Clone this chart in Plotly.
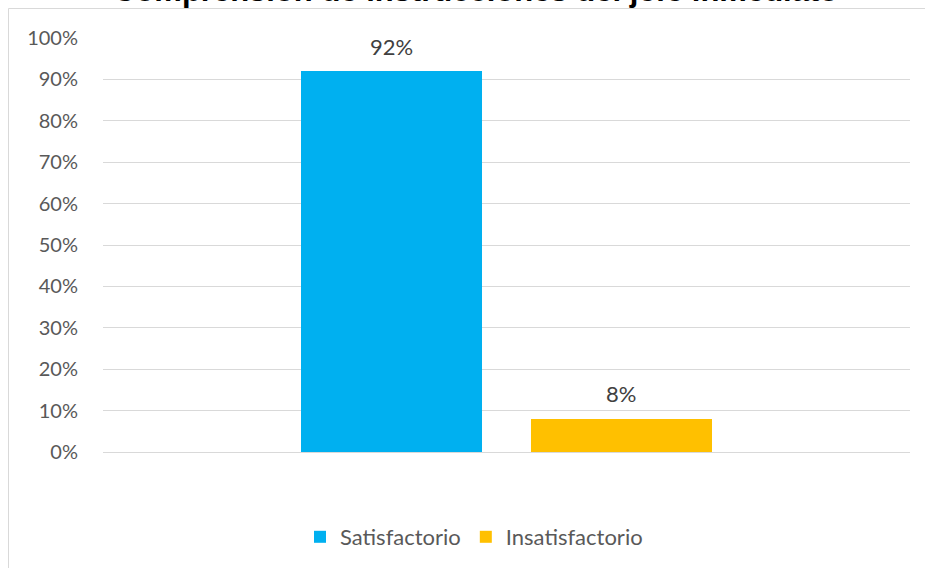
import plotly.graph_objects as go

title_text = "Comprensión de instrucciones del jefe inmediato"
category = ["Comprensión"]
series_names = ["Satisfactorio", "Insatisfactorio"]
series_values = [0.92, 0.08]
series_colors = ["#00B0F0", "#FFC000"]
tick_vals = [0, 0.1, 0.2, 0.3, 0.4, 0.5, 0.6, 0.7, 0.8, 0.9, 1.0]
tick_text = ["0%", "10%", "20%", "30%", "40%", "50%", "60%", "70%", "80%", "90%", "100%"]

W, H = 925, 568
ML, MR, MT, MB = 103, 15, 38, 116
PW = W - ML - MR
PH = H - MT - MB
BARGAP = 0.43
BARGROUPGAP = 0.213

fig = go.Figure()
for name, val, col in zip(series_names, series_values, series_colors):
    fig.add_trace(go.Bar(x=category, y=[val], name=name, marker_color=col,
                         marker_line_width=0))

slot = PW * (1 - BARGAP) / len(series_names)
annotations = []
for i, (name, val) in enumerate(zip(series_names, series_values)):
    offset = (i - (len(series_names) - 1) / 2) * slot
    annotations.append(dict(x=category[0], y=val, xref="x", yref="y",
                            text=f"{round(val*100)}%", showarrow=False,
                            xshift=offset, yshift=25, yanchor="middle",
                            font=dict(family="Lato", size=22, color="#404040")))

annotations.append(dict(x=(475 - ML) / PW, y=1, xref="paper", yref="paper",
                        text=f"<b>{title_text}</b>", showarrow=False,
                        yanchor="bottom", yshift=28, xanchor="center",
                        font=dict(family="Liberation Sans", size=31, color="#000000")))

fig.update_layout(
    width=W, height=H,
    margin=dict(l=ML, r=MR, t=MT, b=MB, pad=0, autoexpand=False),
    paper_bgcolor="white", plot_bgcolor="white",
    barmode="group", bargap=BARGAP, bargroupgap=BARGROUPGAP,
    showlegend=True,
    legend=dict(orientation="h", x=(474 - ML) / PW, xanchor="center",
                y=-(537 - MT - PH) / PH, yanchor="middle",
                font=dict(family="Lato", size=22, color="#595959"),
                traceorder="normal", itemwidth=30),
    annotations=annotations,
    shapes=[dict(type="rect", xref="paper", yref="paper",
                 x0=(8.5 - ML) / PW, x1=(W + 5 - ML) / PW,
                 y0=-(H + 5 - MT - PH) / PH, y1=1 + (MT - 8.5) / PH,
                 line=dict(color="#D9D9D9", width=1), layer="below")],
)
fig.update_xaxes(showticklabels=False, showgrid=False, zeroline=False,
                 showline=False, ticks="")
fig.update_yaxes(range=[0, 1.0], tickvals=tick_vals, ticktext=tick_text,
                 showgrid=True, gridcolor="#D9D9D9", gridwidth=1,
                 zeroline=True, zerolinecolor="#D9D9D9", zerolinewidth=1,
                 showline=False, ticks="", ticklabelstandoff=24,
                 tickfont=dict(family="Lato", size=20, color="#595959"))

fig.write_html("out.html")
